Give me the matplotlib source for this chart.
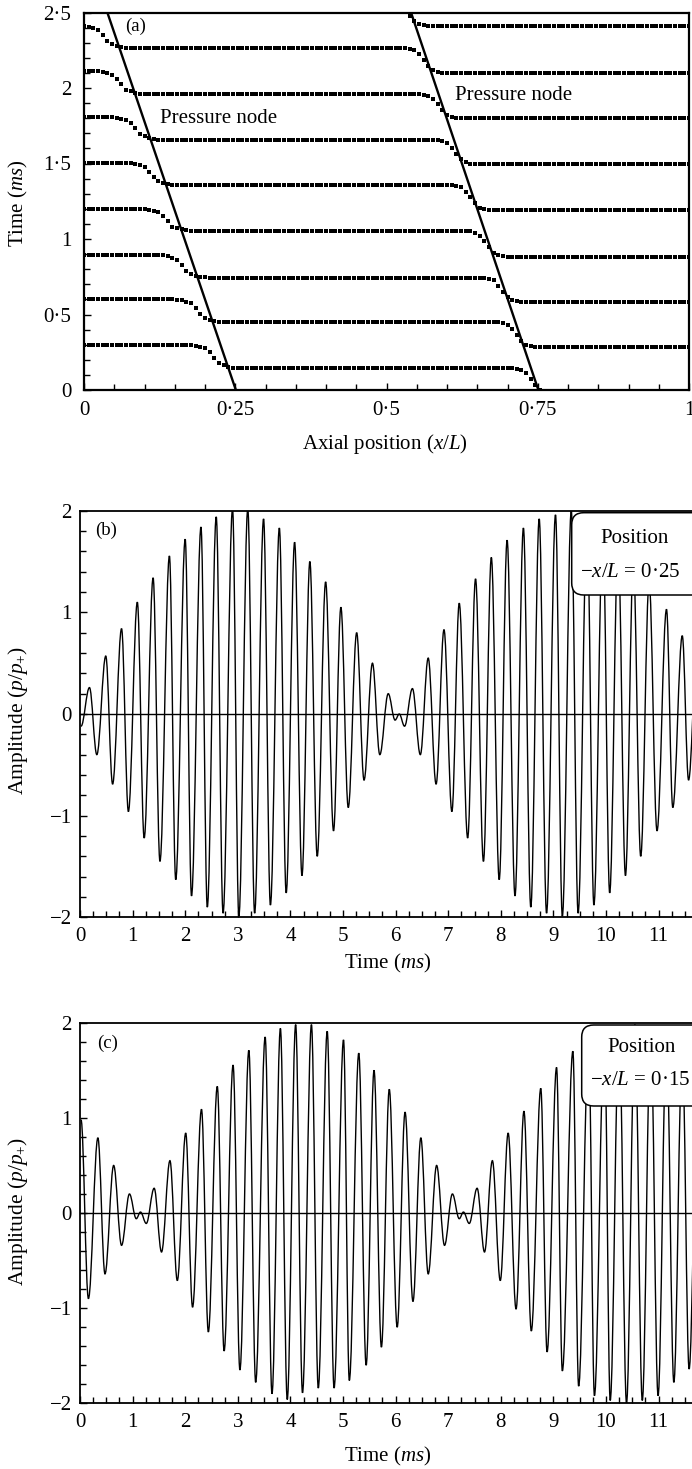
import numpy as np
import matplotlib
matplotlib.use('Agg')
import matplotlib.pyplot as plt
from matplotlib.path import Path
from matplotlib.patches import PathPatch, FancyBboxPatch
from matplotlib.ticker import MultipleLocator
from matplotlib.transforms import IdentityTransform

plt.rcParams['font.family'] = ['Liberation Serif', 'DejaVu Serif']
plt.rcParams['mathtext.fontset'] = 'custom'
plt.rcParams['mathtext.rm'] = 'Liberation Serif'
plt.rcParams['mathtext.it'] = 'Liberation Serif:italic'
plt.rcParams['mathtext.bf'] = 'Liberation Serif:bold'

# ---------------- data: panel (a) ----------------
# level of each marker row left of the first node, between nodes, right of second node
rows_left = [0.298, 0.600, 0.894, 1.199, 1.505, 1.806, 2.110, 2.410, 2.710]
rows_mid = [0.144, 0.448, 0.744, 1.053, 1.358, 1.656, 1.958, 2.263, 2.560]
rows_right = [-0.030, 0.283, 0.585, 0.883, 1.190, 1.495, 1.800, 2.100, 2.410]
# shape of the step (fraction of the drop) versus distance from the node line
left_step_dx = [-0.060, -0.048, -0.036, -0.027, -0.016, -0.005, 0.006, 0.016]
left_step_f = [0.0, 0.06, 0.17, 0.43, 0.79, 0.90, 0.97, 1.0]
right_step_dx = [-0.040, -0.025, -0.015, -0.006, 0.002, 0.010, 0.020]
right_step_f = [0.0, 0.11, 0.41, 0.68, 0.89, 0.96, 1.0]
# pressure node lines: x at t = 0 and at t = 2.5
node_x_bottom = [0.251, 0.751]
node_x_top = [0.0386, 0.5405]
n_samples = 131

# ---------------- data: panel (b), x/L = 0.25 (extrema of the signal) ----------------
b_t = [0.02, 0.18, 0.32, 0.49, 0.62, 0.79, 0.92, 1.09, 1.22, 1.39, 1.52, 1.70, 1.82, 2.00,
       2.12, 2.30, 2.42, 2.59, 2.72, 2.90, 3.02, 3.19, 3.32, 3.49, 3.62, 3.79, 3.92, 4.08,
       4.22, 4.37, 4.51, 4.67, 4.82, 4.96, 5.10, 5.26, 5.40, 5.56, 5.70, 5.86, 5.99, 6.07,
       6.17, 6.32, 6.47, 6.62, 6.77, 6.92, 7.07, 7.21, 7.37, 7.52, 7.67, 7.82, 7.97, 8.12,
       8.27, 8.43, 8.57, 8.73, 8.87, 9.04, 9.17, 9.34, 9.47, 9.64, 9.77, 9.94, 10.07, 10.23,
       10.37, 10.52, 10.66, 10.82, 10.97, 11.15, 11.27, 11.45, 11.57, 11.72]
b_v = [-0.12, 0.26, -0.40, 0.57, -0.69, 0.84, -0.96, 1.10, -1.22, 1.34, -1.45, 1.555, -1.63, 1.72,
       -1.79, 1.84, -1.90, 1.94, -1.96, 2.02, -1.99, 2.02, -1.96, 1.92, -1.88, 1.83, -1.76, 1.69,
       -1.59, 1.50, -1.40, 1.30, -1.15, 1.05, -0.92, 0.80, -0.65, 0.50, -0.40, 0.20, -0.06, 0.0,
       -0.12, 0.25, -0.40, 0.55, -0.69, 0.83, -0.96, 1.09, -1.22, 1.33, -1.45, 1.54, -1.63, 1.71,
       -1.79, 1.83, -1.90, 1.92, -1.96, 1.96, -1.99, 2.00, -1.96, 1.92, -1.88, 1.83, -1.76, 1.69,
       -1.59, 1.50, -1.40, 1.30, -1.15, 1.03, -0.92, 0.77, -0.65, 0.50]

# ---------------- data: panel (c), x/L = 0.15 (extrema of the signal) ----------------
c_t = [0.02, 0.16, 0.34, 0.475, 0.64, 0.79, 0.94, 1.07, 1.15, 1.26, 1.41, 1.55, 1.71, 1.85,
       2.01, 2.14, 2.31, 2.44, 2.61, 2.74, 2.91, 3.04, 3.21, 3.34, 3.52, 3.65, 3.81, 3.94,
       4.10, 4.23, 4.40, 4.53, 4.70, 4.83, 5.01, 5.12, 5.30, 5.44, 5.59, 5.73, 5.88, 6.03,
       6.18, 6.33, 6.48, 6.62, 6.78, 6.93, 7.08, 7.21, 7.29, 7.40, 7.55, 7.69, 7.84, 7.99,
       8.14, 8.29, 8.44, 8.58, 8.76, 8.88, 9.06, 9.17, 9.37, 9.48, 9.67, 9.78, 9.97, 10.08,
       10.25, 10.39, 10.55, 10.69, 10.85, 10.99, 11.15, 11.29, 11.45, 11.58, 11.75]
c_v = [0.98, -0.90, 0.79, -0.64, 0.50, -0.34, 0.20, -0.06, 0.01, -0.11, 0.26, -0.41, 0.55, -0.71,
       0.84, -0.99, 1.09, -1.25, 1.33, -1.45, 1.555, -1.65, 1.71, -1.78, 1.85, -1.90, 1.94, -1.96,
       1.98, -1.89, 1.98, -1.84, 1.91, -1.84, 1.82, -1.76, 1.68, -1.60, 1.50, -1.41, 1.30, -1.20,
       1.06, -0.93, 0.79, -0.64, 0.50, -0.34, 0.20, -0.06, 0.01, -0.11, 0.26, -0.41, 0.55, -0.71,
       0.84, -1.01, 1.07, -1.24, 1.31, -1.46, 1.53, -1.66, 1.70, -1.82, 1.83, -1.92, 1.92, -1.97,
       1.97, -2.00, 1.98, -1.97, 1.93, -1.92, 1.85, -1.78, 1.72, -1.64, 1.55]

a_xticks = [0, 0.25, 0.5, 0.75, 1]
a_xticklabels = ['0', '0·25', '0·5', '0·75', '1']
a_yticks = [0, 0.5, 1, 1.5, 2, 2.5]
a_yticklabels = ['0', '0·5', '1', '1·5', '2', '2·5']
bc_xticks = list(range(0, 12))
bc_xticklabels = [str(v) for v in bc_xticks]
bc_yticks = [-2, -1, 0, 1, 2]
bc_yticklabels = ['−2', '−1', '0', '1', '2']

# ---------------- figure ----------------
W, H = 692, 1469
fig = plt.figure(figsize=(W / 100, H / 100), dpi=100)


def ax_px(l, t, r, b):
    return fig.add_axes([l / W, 1 - b / H, (r - l) / W, (b - t) / H])


FS = 15


def style(ax, lw):
    for s in ax.spines.values():
        s.set_linewidth(lw)
    ax.tick_params(which='both', direction='in', top=False, right=False,
                   labelsize=FS, width=1.0)
    ax.tick_params(which='major', length=5)
    ax.tick_params(which='minor', length=4)


# ---- panel (a)
ax_a = ax_px(84, 12.5, 689, 390)
style(ax_a, 1.6)
ax_a.set_xlim(0, 1)
ax_a.set_ylim(0, 2.5)
ax_a.set_xticks(a_xticks)
ax_a.set_xticklabels(a_xticklabels)
ax_a.set_yticks(a_yticks)
ax_a.set_yticklabels(a_yticklabels)
ax_a.xaxis.set_minor_locator(MultipleLocator(0.05))
ax_a.yaxis.set_minor_locator(MultipleLocator(0.1))
ax_a.tick_params(axis='x', pad=8)
ax_a.tick_params(axis='y', pad=9)


def node_x(i, t):
    return node_x_bottom[i] + (node_x_top[i] - node_x_bottom[i]) * t / 2.5


xs = np.linspace(0, 1, n_samples)
for L, M, R in zip(rows_left, rows_mid, rows_right):
    f1 = np.interp(xs - node_x(0, M), left_step_dx, left_step_f)
    f2 = np.interp(xs - node_x(1, R), right_step_dx, right_step_f)
    ys = L - (L - M) * f1 - (M - R) * f2
    ax_a.plot(xs, ys, ls='none', marker='s', ms=3.5, mfc='k', mec='k', mew=0, zorder=3)

for i in range(2):
    ax_a.plot([node_x_bottom[i], node_x_top[i]], [0, 2.5], color='k', lw=1.7, zorder=4)

ax_a.text(0.068, 2.406, '(a)', fontsize=13.5, ha='left', va='center')
ax_a.text(0.126, 1.80, 'Pressure node', fontsize=FS, ha='left', va='center')
ax_a.text(0.613, 1.95, 'Pressure node', fontsize=FS, ha='left', va='center')

fig.text(385 / W, 1 - 444 / H, 'Axial position ($x/L$)', fontsize=FS, ha='center', va='center')
fig.text(18 / W, 1 - 203 / H, 'Time ($ms$)', fontsize=FS, ha='center', va='center', rotation=90)


def bez_path(ts, vs, k=0.364):
    verts = [(ts[0], vs[0])]
    codes = [Path.MOVETO]
    for i in range(len(ts) - 1):
        t0, t1 = ts[i], ts[i + 1]
        v0, v1 = vs[i], vs[i + 1]
        dt = t1 - t0
        verts += [(t0 + k * dt, v0), (t1 - k * dt, v1), (t1, v1)]
        codes += [Path.CURVE4] * 3
    return Path(verts, codes)


def wave_panel(ax, ts, vs, label, lab_xy, pos_txt, box_px, txt1_xy, txt2_xy):
    style(ax, 1.3)
    ax.set_xlim(0, 12)
    ax.set_ylim(-2, 2)
    ax.set_xticks(bc_xticks)
    ax.set_xticklabels(bc_xticklabels)
    ax.set_yticks(bc_yticks)
    ax.set_yticklabels(bc_yticklabels)
    ax.xaxis.set_minor_locator(MultipleLocator(0.25))
    ax.yaxis.set_minor_locator(MultipleLocator(0.2))
    ax.tick_params(axis='x', pad=7)
    ax.tick_params(axis='y', pad=6)
    ax.axhline(0, color='k', lw=1.0, zorder=2)
    ax.add_patch(PathPatch(bez_path(ts, vs), fill=False, lw=1.0, ec='k', zorder=3))
    ax.text(lab_xy[0], lab_xy[1], label, fontsize=13.5, ha='left', va='center')
    x0, ytop, x1, ybot = box_px
    box = FancyBboxPatch((x0, H - ybot), x1 - x0, ybot - ytop,
                         boxstyle='round,pad=0,rounding_size=12',
                         transform=IdentityTransform(), fc='white', ec='k', lw=1.1,
                         zorder=5)
    ax.add_patch(box)
    ax.text(txt1_xy[0], txt1_xy[1], 'Position', fontsize=FS, ha='center', va='center', zorder=6)
    ax.text(txt2_xy[0], txt2_xy[1], pos_txt, fontsize=FS, ha='center', va='center', zorder=6)


ax_b = ax_px(80, 510.7, 80 + 12 * 52.6, 917.3)
wave_panel(ax_b, b_t, b_v, '(b)', (0.285, 1.81), '−$x/L$ = 0·25',
           (571.7, 512.7, 740, 595), (10.55, 1.73), (10.46, 1.39))
fig.text(388 / W, 1 - 963 / H, 'Time ($ms$)', fontsize=FS, ha='center', va='center')
fig.text(18 / W, 1 - 720 / H, 'Amplitude ($p/p_{+}$)', fontsize=15.5, ha='center', va='center',
         rotation=90)

ax_c = ax_px(80, 1022.7, 80 + 12 * 52.6, 1403.3)
wave_panel(ax_c, c_t, c_v, '(c)', (0.32, 1.78), '−$x/L$ = 0·15',
           (581.7, 1025, 740, 1106), (10.68, 1.74), (10.64, 1.39))
fig.text(388 / W, 1 - 1456 / H, 'Time ($ms$)', fontsize=FS, ha='center', va='center')
fig.text(18 / W, 1 - 1211 / H, 'Amplitude ($p/p_{+}$)', fontsize=15.5, ha='center', va='center',
         rotation=90)

fig.savefig('out.png', dpi=100)
